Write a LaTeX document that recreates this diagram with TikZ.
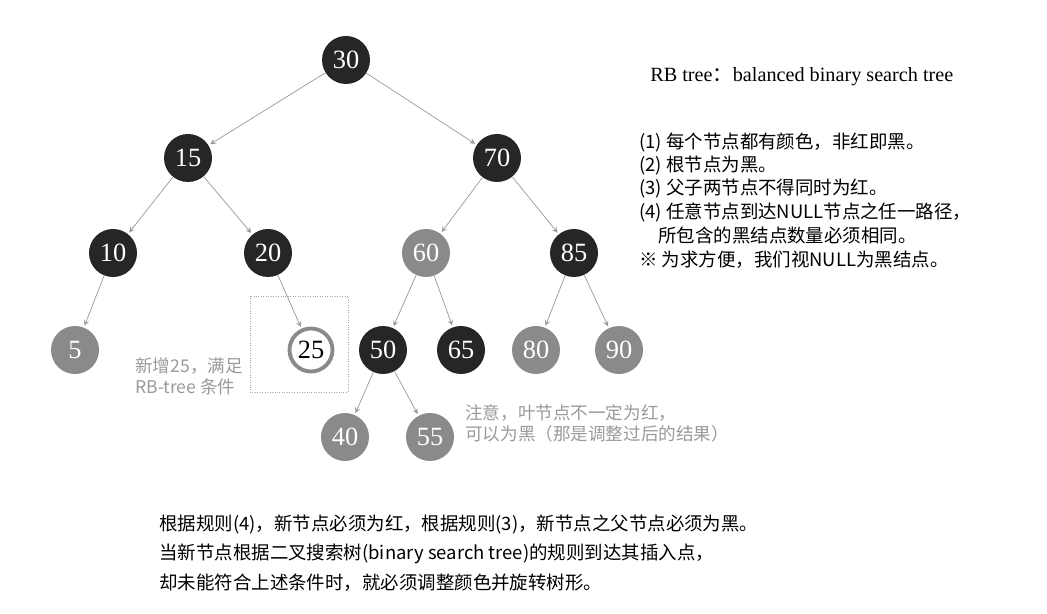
\documentclass[tikz,border=0pt]{standalone}
\usepackage{fontspec}
\setmainfont{Liberation Serif}
\newfontfamily\cjk{Noto Sans CJK SC}
\usetikzlibrary{positioning}
\definecolor{rbblack}{HTML}{262626}
\definecolor{rbred}{HTML}{8A8A8A}
\definecolor{notegray}{HTML}{9A9A9A}
\tikzset{
  blk/.style={circle,fill=rbblack,text=white,minimum size=0.96cm,inner sep=0pt,font=\fontsize{15}{15}\selectfont},
  red/.style={circle,fill=rbred,text=white,minimum size=0.96cm,inner sep=0pt,font=\fontsize{15}{15}\selectfont},
  newnode/.style={circle,draw=rbred,line width=2.2pt,fill=white,text=black,minimum size=0.86cm,inner sep=0pt,font=\fontsize{15}{15}\selectfont},
  edge/.style={draw=gray!80,->,>=stealth,thin,shorten >=1pt},
  rule/.style={anchor=west,inner sep=0pt,font=\cjk\fontsize{10.5}{12}\selectfont},
  note/.style={anchor=west,inner sep=0pt,text=notegray,font=\cjk\fontsize{10}{12}\selectfont,align=left}
}
\begin{document}
\begin{tikzpicture}
\useasboundingbox[fill=white] (0,0) rectangle (20.94,-12.28);
% tree nodes
\node[blk] (n30) at (6.92,-1.20) {30};
\node[blk] (n15) at (3.76,-3.16) {15};
\node[blk] (n70) at (9.94,-3.16) {70};
\node[blk] (n10) at (2.26,-5.06) {10};
\node[blk] (n20) at (5.36,-5.06) {20};
\node[red] (n60) at (8.52,-5.06) {60};
\node[blk] (n85) at (11.48,-5.06) {85};
\node[red] (n5) at (1.50,-7.00) {5};
\node[newnode] (n25) at (6.22,-7.00) {25};
\node[blk] (n50) at (7.66,-7.00) {50};
\node[blk] (n65) at (9.22,-7.00) {65};
\node[red] (n80) at (10.72,-7.00) {80};
\node[red] (n90) at (12.38,-7.00) {90};
\node[red] (n40) at (6.90,-8.74) {40};
\node[red] (n55) at (8.60,-8.74) {55};

% edges
\foreach \a/\b in {n30/n15,n30/n70,n15/n10,n15/n20,n70/n60,n70/n85,n10/n5,n20/n25,
                   n60/n50,n60/n65,n85/n80,n85/n90,n50/n40,n50/n55}
  \draw[edge] (\a) -- (\b);

% box around the new node
\draw[densely dotted,gray!70] (5.00,-5.92) rectangle (6.96,-7.84);
\node[note] (addnote) at (2.70,-7.52) {新增25，满足\\RB-tree 条件};
\node[note] (leafnote) at (9.30,-8.46) {注意，叶节点不一定为红，\\可以为黑（那是调整过后的结果）};

% rules
\node[anchor=west,inner sep=0pt,font=\fontsize{11.5}{12}\selectfont] (title) at (13.00,-1.54) {RB tree{\cjk ：}balanced binary search tree};
\node[rule] (r1) at (12.78,-2.86) {(1) 每个节点都有颜色，非红即黑。};
\node[rule] (r2) at (12.78,-3.32) {(2) 根节点为黑。};
\node[rule] (r3) at (12.78,-3.78) {(3) 父子两节点不得同时为红。};
\node[rule] (r4) at (12.78,-4.24) {(4) 任意节点到达NULL节点之任一路径，};
\node[rule] (r4b) at (13.16,-4.70) {所包含的黑结点数量必须相同。};
\node[rule] (r5) at (12.78,-5.20) {※ 为求方便，我们视NULL为黑结点。};

% bottom text
\node[rule] (b1) at (3.18,-10.50) {根据规则(4)，新节点必须为红，根据规则(3)，新节点之父节点必须为黑。};
\node[rule] (b2) at (3.18,-11.08) {当新节点根据二叉搜索树(binary search tree)的规则到达其插入点，};
\node[rule] (b3) at (3.18,-11.66) {却未能符合上述条件时，就必须调整颜色并旋转树形。};
\end{tikzpicture}
\end{document}
